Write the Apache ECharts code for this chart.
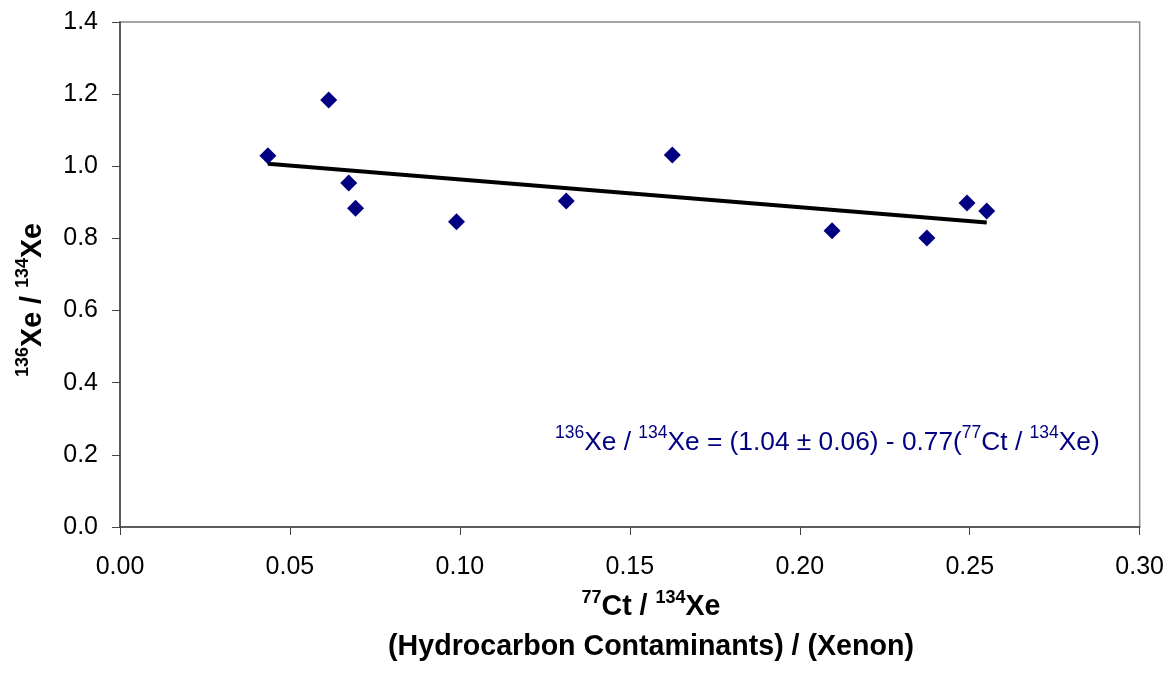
<!DOCTYPE html>
<html><head><meta charset="utf-8">
<script src="https://cdn.jsdelivr.net/npm/echarts@6/dist/echarts.min.js"></script>
<style>html,body{margin:0;padding:0;background:#fff}#c{width:1167px;height:690px}</style>
</head><body><div id="c"></div>
<script>
const ctRatio = [0.0435, 0.0614, 0.0673, 0.0693, 0.099, 0.1313, 0.1625, 0.2095, 0.2374, 0.2492, 0.255];
const xeRatio = [1.029, 1.184, 0.954, 0.884, 0.846, 0.904, 1.031, 0.821, 0.801, 0.898, 0.876];
const trendX = [0.0435, 0.255];
const trendY = [1.007, 0.844];
const xTicks = ['0.00','0.05','0.10','0.15','0.20','0.25','0.30'];
const yTicks = ['0.0','0.2','0.4','0.6','0.8','1.0','1.2','1.4'];

const F = '"Liberation Sans", Arial, sans-serif';
const chart = echarts.init(document.getElementById('c'));
const titleRich = {
  n: {fontFamily: F, fontSize: 28.6, fontWeight: 'bold', fill: '#000', lineHeight: 33, verticalAlign: 'bottom'},
  s: {fontFamily: F, fontSize: 18, fontWeight: 'bold', fill: '#000', lineHeight: 33, verticalAlign: 'top'}
};
chart.setOption({
  animation: false,
  backgroundColor: '#fff',
  grid: {left: 120, right: 26, top: 22, bottom: 163, show: true, borderColor: '#888', borderWidth: 1.5, backgroundColor: 'transparent'},
  xAxis: {
    type: 'value', min: 0, max: 0.30, interval: 0.05,
    axisLine: {show: true, lineStyle: {color: '#444', width: 1.5}},
    axisTick: {show: true, length: 8, lineStyle: {color: '#444'}},
    splitLine: {show: false},
    axisLabel: {fontFamily: F, fontSize: 25, color: '#000', margin: 28,
      formatter: (v) => xTicks[Math.round(v / 0.05)]}
  },
  yAxis: {
    type: 'value', min: 0, max: 1.4, interval: 0.2,
    axisLine: {show: true, lineStyle: {color: '#444', width: 1.5}},
    axisTick: {show: true, length: 8, lineStyle: {color: '#444'}},
    splitLine: {show: false},
    axisLabel: {fontFamily: F, fontSize: 25, color: '#000', margin: 22,
      formatter: (v) => yTicks[Math.round(v / 0.2)]}
  },
  series: [
    {
      type: 'line', data: trendX.map((x, i) => [x, trendY[i]]),
      showSymbol: false, symbol: 'none', lineStyle: {color: '#000', width: 4}, z: 2
    },
    {
      type: 'scatter', data: ctRatio.map((x, i) => [x, xeRatio[i]]),
      symbol: 'diamond', symbolSize: [17, 17], itemStyle: {color: '#000080', opacity: 1}, z: 3
    }
  ],
  graphic: [
    {
      type: 'text', x: 555, y: 456,
      style: {
        text: '{s|136}{n|Xe / }{s|134}{n|Xe = (1.04 ± 0.06) - 0.77(}{s|77}{n|Ct / }{s|134}{n|Xe)}',
        align: 'left', verticalAlign: 'bottom',
        rich: {
          n: {fontFamily: F, fontSize: 26.3, fill: '#000080', lineHeight: 32, verticalAlign: 'bottom'},
          s: {fontFamily: F, fontSize: 17.5, fill: '#000080', lineHeight: 32, verticalAlign: 'top'}
        }
      }
    },
    {
      type: 'text', x: 651, y: 622,
      style: {
        text: '{s|77}{n|Ct / }{s|134}{n|Xe}',
        align: 'center', verticalAlign: 'bottom',
        rich: titleRich
      }
    },
    {
      type: 'text', x: 651, y: 662,
      style: {
        text: '(Hydrocarbon Contaminants) / (Xenon)',
        align: 'center', verticalAlign: 'bottom',
        fontFamily: F, fontSize: 28.6, fontWeight: 'bold', fill: '#000'
      }
    },
    {
      type: 'text', x: 31, y: 300, rotation: Math.PI / 2,
      style: {
        text: '{s|136}{n|Xe / }{s|134}{n|Xe}',
        align: 'center', verticalAlign: 'middle',
        rich: titleRich
      }
    }
  ]
});
</script></body></html>
